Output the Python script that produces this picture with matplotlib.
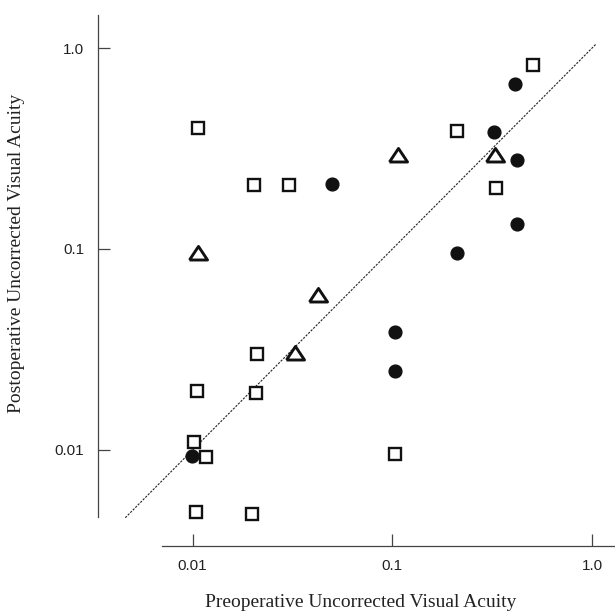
#!/usr/bin/env python3
"""Pre- vs postoperative uncorrected visual acuity, log-log scatter."""

import matplotlib
matplotlib.use("Agg")
import matplotlib.pyplot as plt
from matplotlib.ticker import FixedLocator, NullLocator

# open squares
sq_pre = [0.0106, 0.0204, 0.0305, 0.211, 0.507, 0.331, 0.021, 0.0105, 0.0207,
          0.0101, 0.0116, 0.103, 0.0104, 0.0198]
sq_post = [0.398, 0.209, 0.209, 0.387, 0.82, 0.20, 0.030, 0.0196, 0.0192,
           0.0110, 0.0092, 0.0096, 0.0049, 0.0048]

# filled circles
ci_pre = [0.41, 0.323, 0.42, 0.42, 0.21, 0.05, 0.1035, 0.1035, 0.0099]
ci_post = [0.66, 0.384, 0.276, 0.133, 0.0955, 0.211, 0.0385, 0.0247, 0.0093]

# open triangles
tr_pre = [0.107, 0.327, 0.0106, 0.0423, 0.0326]
tr_post = [0.295, 0.292, 0.0955, 0.0589, 0.0302]

# line of equality
diag = [0.0046, 1.05]

tick_vals = [0.01, 0.1, 1.0]
tick_labels = ["0.01", "0.1", "1.0"]

ink = "#111111"

fig = plt.figure(figsize=(6.15, 6.12), dpi=100)
ax = fig.add_axes([0.1593, 0.1078, 0.8407, 0.8676])
ax.set_xscale("log")
ax.set_yscale("log")
ax.set_xlim(0.003357, 1.302)
ax.set_ylim(0.003326, 1.459)

ax.plot(diag, diag, linestyle=(0, (2.0, 1.2)), color="#222222", linewidth=0.8, zorder=1)

ax.plot(sq_pre, sq_post, linestyle="none", marker="s", markersize=9,
        markerfacecolor="white", markeredgecolor=ink, markeredgewidth=1.7, zorder=3)
ax.plot(ci_pre, ci_post, linestyle="none", marker="o", markersize=9.2,
        markerfacecolor=ink, markeredgecolor=ink, zorder=3)
tri = [(-1.0, -0.72), (1.0, -0.72), (0.0, 0.78), (-1.0, -0.72)]
ax.plot(tr_pre, tr_post, linestyle="none", marker=tri, markersize=13,
        markerfacecolor="white", markeredgecolor=ink, markeredgewidth=2.1, zorder=3)

for side in ("top", "right"):
    ax.spines[side].set_visible(False)
ax.spines["left"].set_bounds(0.004645, 1.459)
ax.spines["bottom"].set_bounds(0.00702, 1.302)
for side in ("left", "bottom"):
    ax.spines[side].set_color("#444444")
    ax.spines[side].set_linewidth(0.9)

for axis in (ax.xaxis, ax.yaxis):
    axis.set_major_locator(FixedLocator(tick_vals))
    axis.set_minor_locator(NullLocator())
ax.set_xticklabels(tick_labels)
ax.set_yticklabels(tick_labels)
ax.tick_params(direction="in", length=8.5, width=0.9, color="#444444",
               labelsize=11, labelcolor="#222222")
ax.tick_params(axis="y", pad=10)
ax.tick_params(axis="x", pad=9)
for lab in ax.get_xticklabels() + ax.get_yticklabels():
    lab.set_family("Liberation Sans")

fig.text(361 / 615, 1 - 607 / 612, "Preoperative Uncorrected Visual Acuity",
         family="Liberation Serif", fontsize=14, color="#222222",
         ha="center", va="baseline")
fig.text(17 / 615, 1 - 253 / 612, "Postoperative Uncorrected Visual Acuity",
         family="Liberation Serif", fontsize=14, color="#222222",
         ha="center", va="center", rotation=90)

fig.savefig("out.png", dpi=100)
